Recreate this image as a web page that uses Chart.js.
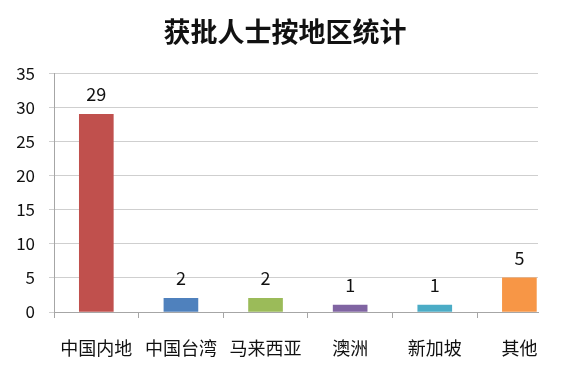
<!DOCTYPE html>
<html>
<head>
<meta charset="utf-8">
<script src="https://cdn.jsdelivr.net/npm/chart.js@4/dist/chart.umd.min.js"></script>
<style>
html,body{margin:0;padding:0;background:#fff;overflow:hidden;}
#wrap{width:587px;height:381px;}
</style>
</head>
<body>
<div id="wrap"><canvas id="c" width="587" height="381"></canvas></div>
<script>
const titleText = '获批人士按地区统计';
const categories = ['中国内地', '中国台湾', '马来西亚', '澳洲', '新加坡', '其他'];
const values = [29, 2, 2, 1, 1, 5];
const barColors = ['#C0504D', '#4F81BD', '#9BBB59', '#8064A2', '#4BACC6', '#F79646'];
const yTicks = [0, 5, 10, 15, 20, 25, 30, 35];

const FONT = '"Noto Sans CJK SC", "Noto Sans", sans-serif';

const valueLabels = {
  id: 'valueLabels',
  afterDatasetsDraw(chart) {
    const ctx = chart.ctx;
    const meta = chart.getDatasetMeta(0);
    ctx.save();
    ctx.font = '18px ' + FONT;
    ctx.fillStyle = '#111';
    ctx.textAlign = 'center';
    ctx.textBaseline = 'alphabetic';
    meta.data.forEach((bar, i) => {
      ctx.fillText(String(values[i]), bar.x, bar.y - 13);
    });
    ctx.restore();
  }
};

new Chart(document.getElementById('c'), {
  type: 'bar',
  data: {
    datasets: [{
      data: values.map((v, i) => ({x: i, y: v})),
      backgroundColor: barColors,
      borderWidth: 0,
      barThickness: 34
    }]
  },
  options: {
    responsive: false,
    animation: false,
    devicePixelRatio: 1,
    layout: {padding: {left: 0, right: 17, top: 0, bottom: 0}},
    plugins: {
      legend: {display: false},
      tooltip: {enabled: false},
      title: {
        display: true,
        text: titleText,
        color: '#111',
        font: {family: FONT, size: 27, weight: 'bold'},
        padding: {top: 16, bottom: 25}
      }
    },
    scales: {
      x: {
        type: 'linear',
        min: -0.5,
        max: 5.22,
        offset: false,
        afterBuildTicks(scale) {
          scale.ticks = categories.map((_, i) => ({value: i}));
        },
        afterFit(scale) { scale.height = 69; },
        ticks: {
          autoSkip: false,
          maxRotation: 0,
          minRotation: 0,
          padding: 19,
          color: '#111',
          font: {family: FONT, size: 18},
          callback: (v) => categories[v] ?? ''
        },
        grid: {
          display: true,
          offset: true,
          drawOnChartArea: false,
          drawTicks: true,
          tickLength: 6,
          color: '#A6A6A6'
        },
        border: {display: true, color: '#A6A6A6'}
      },
      y: {
        min: 0,
        max: 35,
        afterBuildTicks(scale) {
          scale.ticks = yTicks.map(v => ({value: v}));
        },
        afterFit(scale) { scale.width = 54; },
        ticks: {
          padding: 14,
          color: '#111',
          font: {family: FONT, size: 17}
        },
        grid: {
          color: '#CFCFCF',
          drawTicks: true,
          tickLength: 5
        },
        border: {display: true, color: '#A6A6A6'}
      },
      yRight: {
        position: 'right',
        display: true,
        min: 0,
        max: 1,
        afterFit(scale) { scale.width = 32; },
        ticks: {display: false},
        grid: {display: false, drawTicks: false},
        border: {display: false}
      }
    }
  },
  plugins: [valueLabels]
});
</script>
</body>
</html>
